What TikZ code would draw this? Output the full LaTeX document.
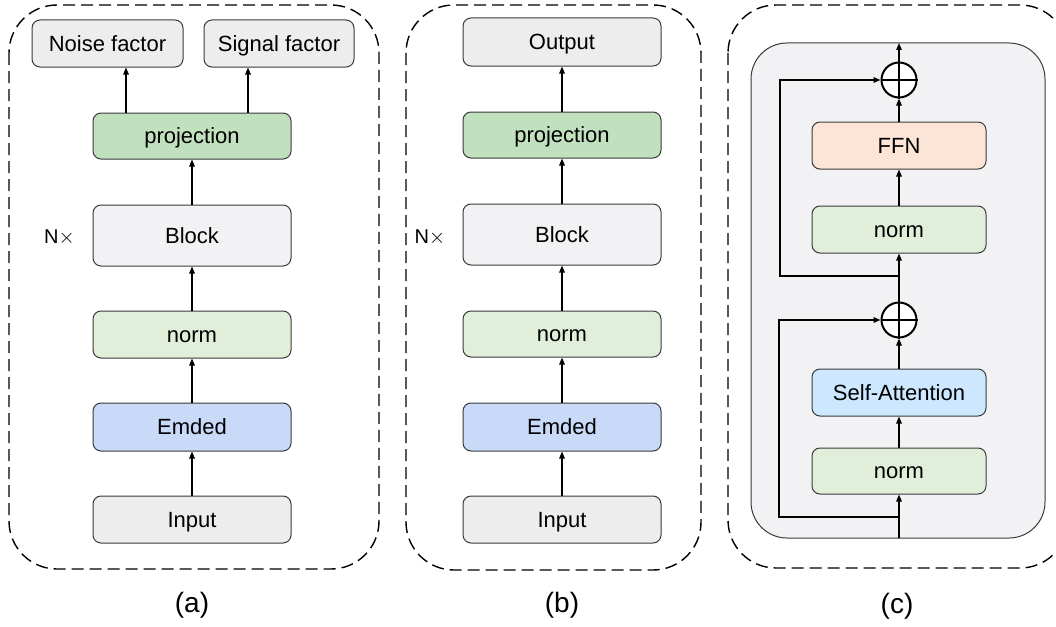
\documentclass[tikz,border=0pt]{standalone}
\usepackage{fontspec}
\setmainfont{Liberation Sans}
\usetikzlibrary{arrows.meta}
\definecolor{cgray}{HTML}{EDEDED}
\definecolor{cblock}{HTML}{F2F2F4}
\definecolor{cproj}{HTML}{C1E1BE}
\definecolor{cnorm}{HTML}{E1EFDA}
\definecolor{cemb}{HTML}{C8DAF8}
\definecolor{cffn}{HTML}{FCE4D6}
\definecolor{csa}{HTML}{CCE7FE}
\definecolor{cpanel}{HTML}{F2F2F4}
\definecolor{cborder}{HTML}{3A3A3A}
\tikzset{
  bx/.style={draw=cborder, line width=1pt, rounded corners=8pt, minimum width=198pt,
    minimum height=47pt, inner sep=0pt, font=\fontsize{22}{26}\selectfont,
    text height=15.4pt, text depth=0pt},
  sbx/.style={bx, minimum width=174pt},
  arr/.style={line width=1.4pt, -{Triangle[length=7pt,width=5.5pt]}},
  ln/.style={line width=1.4pt},
  outer/.style={dashed, dash pattern=on 12pt off 6pt, line width=1.4pt, rounded corners=48pt},
  lbl/.style={font=\fontsize{28}{32}\selectfont, anchor=base, inner sep=0pt},
  nx/.style={font=\fontsize{20}{24}\selectfont, inner sep=0pt, text height=14pt, text depth=0pt},
  plus/.style={circle, draw, line width=2pt, fill=white, minimum size=35pt, inner sep=0pt}
}
\begin{document}
\begin{tikzpicture}[x=1pt,y=-1pt]
\useasboundingbox (0,0) rectangle (1056,626);
\clip (0,0) rectangle (1056,626);
% ---------- panel (a)
\draw[outer] (9,5) rectangle (379,569);
\node[bx, fill=cgray, minimum width=151pt] (an) at (107.5,43.5) {Noise factor};
\node[bx, fill=cgray, minimum width=150pt] (as) at (279,43.5) {Signal factor};
\node[bx, fill=cproj, minimum height=46pt] (ap) at (192,136) {projection};
\node[bx, fill=cblock, minimum height=61pt] (ab) at (192,235.5) {Block};
\node[bx, fill=cnorm] (anm) at (192,334.5) {norm};
\node[bx, fill=cemb, minimum height=48pt] (ae) at (192,427) {Emded};
\node[bx, fill=cgray] (ai) at (192,519.5) {Input};
\node[nx] (anx) at (59.5,236) {N$\times$};
\node[lbl] (la) at (192,612) {(a)};
\draw[arr] (ap.north -| 126,0) -- (an.south -| 126,0);
\draw[arr] (ap.north -| 248,0) -- (as.south -| 248,0);
\draw[arr] (ab) -- (ap);
\draw[arr] (anm) -- (ab);
\draw[arr] (ae) -- (anm);
\draw[arr] (ai) -- (ae);
% ---------- panel (b)
\draw[outer] (406,5) rectangle (701,570);
\node[bx, fill=cgray, minimum height=48pt] (bo) at (562,42) {Output};
\node[bx, fill=cproj, minimum height=46pt] (bp) at (562,135) {projection};
\node[bx, fill=cblock, minimum height=61pt] (bb) at (562,234.5) {Block};
\node[bx, fill=cnorm, minimum height=46pt] (bnm) at (562,334) {norm};
\node[bx, fill=cemb, minimum height=48pt] (be) at (562,427) {Emded};
\node[bx, fill=cgray] (bi) at (562,519.5) {Input};
\node[nx] (bnx) at (430,236) {N$\times$};
\node[lbl] (lb) at (562,612) {(b)};
\draw[arr] (bp) -- (bo);
\draw[arr] (bb) -- (bp);
\draw[arr] (bnm) -- (bb);
\draw[arr] (be) -- (bnm);
\draw[arr] (bi) -- (be);
% ---------- panel (c)
\draw[outer] (728,5) rectangle (1068,568);
\draw[draw=cborder, line width=1pt, fill=cpanel, rounded corners=36pt] (751,43) rectangle (1045,538);
\coordinate (ctop) at (899,43);
\coordinate (cbot) at (899,538);
\coordinate (cs1) at (899,517);
\coordinate (cs2) at (899,276);
\node[plus] (p1) at (899,80) {};
\node[sbx, fill=cffn] (ffn) at (899,145.5) {FFN};
\node[sbx, fill=cnorm] (cn2) at (899,229.5) {norm};
\node[plus] (p2) at (899,320) {};
\node[sbx, fill=csa] (sa) at (899,392.5) {Self-Attention};
\node[sbx, fill=cnorm, minimum height=46pt] (cn1) at (899,471) {norm};
\node[lbl] (lc) at (897,613) {(c)};
\foreach \p in {p1,p2}{
  \draw[line width=2pt] (\p.north) -- (\p.south);
  \draw[line width=2pt] (\p.west) -- (\p.east);
}
\draw[arr] (cbot) -- (cn1);
\draw[arr] (cn1) -- (sa);
\draw[arr] (sa) -- (p2);
\draw[arr] (p2) -- (cn2);
\draw[arr] (cn2) -- (ffn);
\draw[arr] (ffn) -- (p1);
\draw[arr] (p1) -- (ctop);
\draw[arr] (cs1) -- (779,517) -- (779,320) -- (p2.west);
\draw[arr] (cs2) -- (780,276) -- (780,80) -- (p1.west);
\end{tikzpicture}
\end{document}
